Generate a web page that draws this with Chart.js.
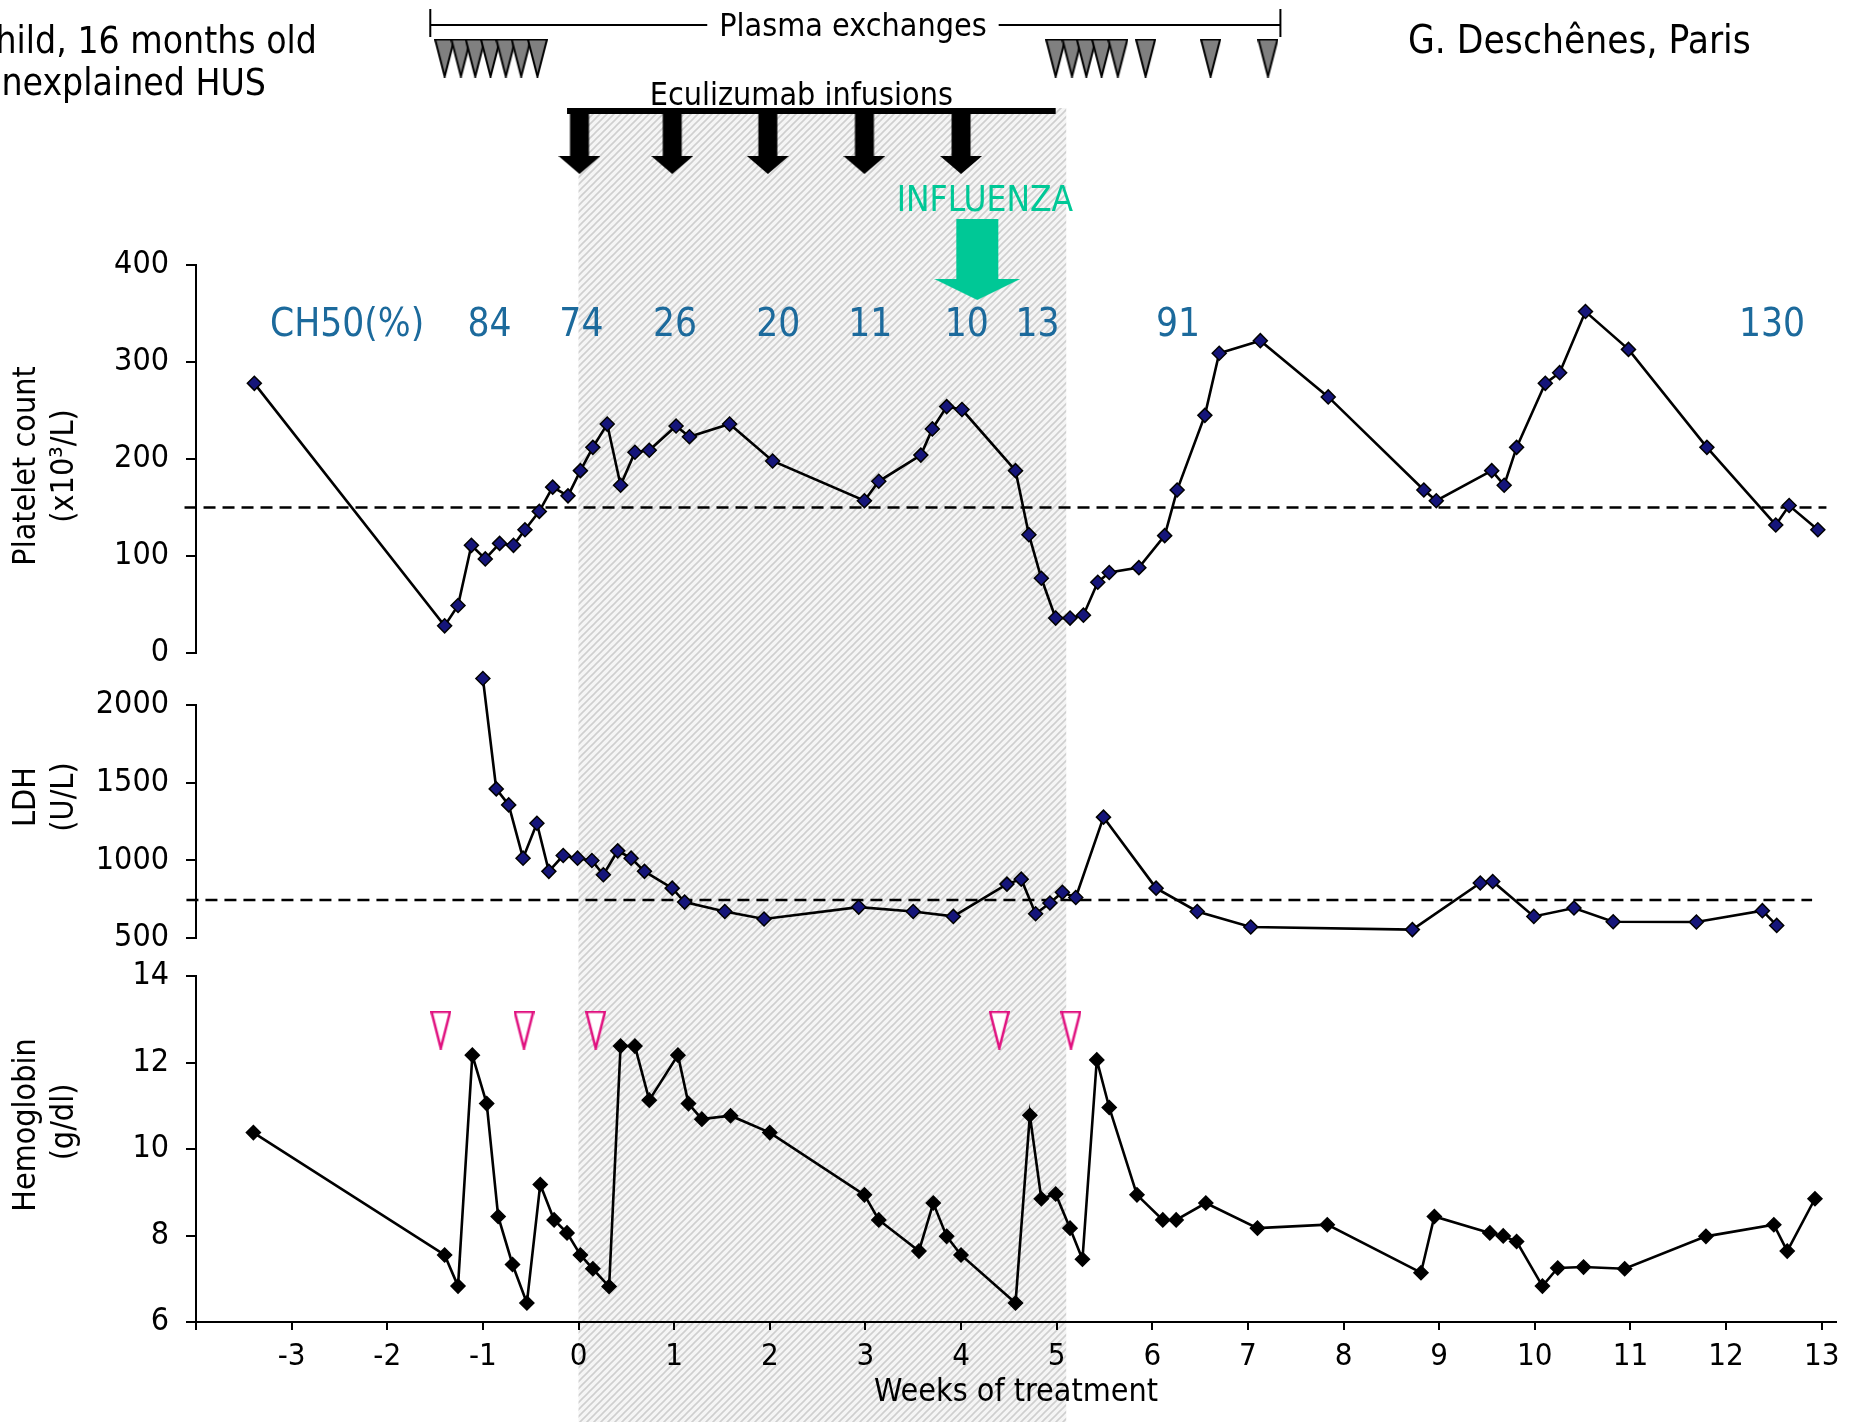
<!DOCTYPE html>
<html>
<head>
<meta charset="utf-8">
<title>Eculizumab et SHU atypique</title>
<script src="https://cdn.jsdelivr.net/npm/chart.js@4.4.1/dist/chart.umd.min.js"></script>
<style>
  html, body { margin: 0; padding: 0; background: #fff; }
  #wrap { width: 1859px; height: 1422px; overflow: hidden; }
</style>
</head>
<body>
<div id="wrap"><canvas id="husChart" width="1859" height="1422"></canvas></div>
<script>
// Semaines (axe x)
const xTicks = [-4, -3, -2, -1, 0, 1, 2, 3, 4, 5, 6, 7, 8, 9, 10, 11, 12, 13];

// Plaquettes (x10^3/L)
const pltWeeks = [-3.39, -1.40, -1.26, -1.12, -0.975, -0.825, -0.68, -0.56, -0.41, -0.27, -0.11, 0.02, 0.15, 0.30, 0.44,
  0.59, 0.74, 1.02, 1.16, 1.58, 2.03, 2.99, 3.14, 3.58, 3.70, 3.85, 4.01, 4.57, 4.71, 4.84, 4.99, 5.14, 5.28, 5.43,
  5.55, 5.86, 6.13, 6.26, 6.55, 6.70, 7.13, 7.84, 8.84, 8.97, 9.55, 9.68, 9.81, 10.11, 10.26, 10.53, 10.98, 11.80,
  12.52, 12.66, 12.96];
const pltValues = [278, 28, 49, 111, 97, 113, 111, 127, 146, 171, 162, 188, 212, 236, 173,
  207, 209, 234, 223, 236, 198, 157, 177, 204, 231, 254, 251, 188, 122, 77, 36, 36, 39, 73,
  83, 88, 121, 168, 245, 309, 322, 264, 168, 157, 188, 173, 212, 278, 289, 352, 313, 212,
  132, 152, 127];
const pltLimit = 150;

// LDH (U/L)
const ldhWeeks = [-1.00, -0.86, -0.73, -0.58, -0.435, -0.31, -0.16, -0.01, 0.14, 0.26, 0.41, 0.55, 0.69, 0.98, 1.11,
  1.53, 1.94, 2.93, 3.50, 3.92, 4.48, 4.63, 4.78, 4.93, 5.06, 5.20, 5.49, 6.04, 6.47, 7.03, 8.72, 9.43, 9.56, 9.99,
  10.41, 10.82, 11.69, 12.38, 12.53];
const ldhValues = [2171, 1460, 1357, 1014, 1239, 929, 1031, 1014, 999, 907, 1061, 1014, 929, 821, 731,
  671, 622, 699, 671, 639, 847, 879, 656, 725, 794, 761, 1278, 821, 671, 571, 554, 854, 864, 639,
  693, 605, 603, 676, 581];
const ldhLimit = 745;

// Hémoglobine (g/dl)
const hbWeeks = [-3.40, -1.40, -1.26, -1.11, -0.96, -0.84, -0.69, -0.54, -0.40, -0.255, -0.12, 0.02, 0.15, 0.32, 0.44,
  0.59, 0.74, 1.04, 1.15, 1.29, 1.59, 2.00, 2.99, 3.14, 3.56, 3.71, 3.85, 4.00, 4.57, 4.72, 4.84, 4.99, 5.14, 5.27,
  5.42, 5.55, 5.84, 6.11, 6.25, 6.56, 7.10, 7.83, 8.81, 8.95, 9.53, 9.67, 9.81, 10.08, 10.24, 10.51, 10.94, 11.79,
  12.50, 12.64, 12.93];
const hbValues = [10.38, 7.55, 6.83, 12.17, 11.05, 8.44, 7.33, 6.44, 9.18, 8.36, 8.06, 7.55, 7.23, 6.82, 12.38,
  12.38, 11.13, 12.17, 11.05, 10.69, 10.77, 10.38, 8.94, 8.36, 7.64, 8.75, 7.98, 7.55, 6.44, 10.78, 8.85, 8.96, 8.17, 7.45,
  12.06, 10.96, 8.94, 8.36, 8.36, 8.75, 8.17, 8.25, 7.14, 8.44, 8.06, 7.99, 7.86, 6.83, 7.25, 7.27, 7.23, 7.98,
  8.25, 7.64, 8.85];

// Transfusions, échanges plasmatiques, perfusions d'eculizumab, grippe
const transfusionWeeks = [-1.44, -0.57, 0.18, 4.40, 5.15];
const plasmaWeeks = [-1.40, -1.23, -1.08, -0.92, -0.76, -0.60, -0.43, 4.99, 5.16, 5.31, 5.47, 5.64, 5.93, 6.61, 7.21];
const plasmaSpan = [-1.55, 7.34];
const eculizumabWeeks = [0.01, 0.98, 1.98, 2.99, 4.00];
const eculizumabSpan = [-0.12, 4.99];
const treatmentSpan = [0, 5.1];
const influenzaWeek = 4.17;

// CH50 (%)
const ch50Weeks = [-0.93, 0.03, 1.01, 2.09, 3.05, 4.06, 4.80, 6.27, 12.48];
const ch50Values = [84, 74, 26, 20, 11, 10, 13, 91, 130];

const FONT = '"DejaVu Sans Condensed", "DejaVu Sans", sans-serif';
const NAVY = '#15157a';
const BLUE = '#1c6a9c';
const TEAL = '#00c896';
const MAGENTA = '#e0107f';

// Rangées (px depuis le haut) du bandeau supérieur
const ROW_PLASMA = 58, ROW_ECU_BAR = 111, ROW_ECU = 142, ROW_FLU = 259.5, HATCH_TOP = 108;

function triangleCanvas(w, h, fill, stroke, lw) {
  const c = document.createElement('canvas');
  c.width = w; c.height = h;
  const g = c.getContext('2d');
  g.beginPath();
  g.moveTo(lw / 2, lw / 2);
  g.lineTo(w - lw / 2, lw / 2);
  g.lineTo(w / 2, h - lw / 2);
  g.closePath();
  g.fillStyle = fill;
  g.fill();
  g.lineWidth = lw;
  g.strokeStyle = stroke;
  g.stroke();
  return c;
}

function arrowCanvas(w, h, shaftW, headH, color) {
  const c = document.createElement('canvas');
  c.width = w; c.height = h;
  const g = c.getContext('2d');
  g.fillStyle = color;
  g.beginPath();
  g.moveTo((w - shaftW) / 2, 0);
  g.lineTo((w + shaftW) / 2, 0);
  g.lineTo((w + shaftW) / 2, h - headH);
  g.lineTo(w, h - headH);
  g.lineTo(w / 2, h);
  g.lineTo(0, h - headH);
  g.lineTo((w - shaftW) / 2, h - headH);
  g.closePath();
  g.fill();
  return c;
}

function hatchPattern(ctx) {
  const c = document.createElement('canvas');
  c.width = 7; c.height = 7;
  const g = c.getContext('2d');
  g.fillStyle = '#f5f5f5';
  g.fillRect(0, 0, 7, 7);
  g.strokeStyle = '#cfcfcf';
  g.lineWidth = 1.6;
  g.beginPath();
  g.moveTo(0, 7); g.lineTo(7, 0);
  g.moveTo(-1, 1); g.lineTo(1, -1);
  g.moveTo(6, 8); g.lineTo(8, 6);
  g.stroke();
  return ctx.createPattern(c, 'repeat');
}

const pts = (xs, ys) => xs.map((x, i) => ({x: x, y: ys[i]}));
const row = (xs, y) => xs.map(x => ({x: x, y: y}));

function drawText(ctx, str, px, py, opt) {
  const o = Object.assign({size: 32, color: '#000', align: 'center', baseline: 'alphabetic', rotate: 0}, opt || {});
  ctx.save();
  ctx.font = o.size + 'px ' + FONT;
  ctx.fillStyle = o.color;
  ctx.textAlign = o.align;
  ctx.textBaseline = o.baseline;
  ctx.translate(px, py);
  if (o.rotate) ctx.rotate(o.rotate);
  ctx.fillText(str, 0, 0);
  ctx.restore();
}

const annotations = {
  id: 'annotations',
  beforeDraw(chart) {
    const {ctx, scales: {x, yTop}} = chart;
    ctx.save();
    ctx.fillStyle = '#fff';
    ctx.fillRect(0, 0, chart.width, chart.height);
    const left = x.getPixelForValue(treatmentSpan[0]);
    const right = x.getPixelForValue(treatmentSpan[1]);
    const top = yTop.getPixelForValue(HATCH_TOP);
    ctx.fillStyle = hatchPattern(ctx);
    ctx.fillRect(left, top, right - left, chart.height - top);
    ctx.restore();
  },
  afterDatasetsDraw(chart) {
    const {ctx, scales: {x, yTop, yPlt}} = chart;

    // Textes en haut
    drawText(ctx, 'Child, 16 months old', 317, 53, {size: 37, align: 'right'});
    drawText(ctx, 'Unexplained HUS', 266, 95, {size: 37, align: 'right'});
    drawText(ctx, 'G. Deschênes, Paris', 1408, 53, {size: 38.5, align: 'left'});

    // Accolade échanges plasmatiques
    const label = 'Plasma exchanges';
    const cx = x.getPixelForValue(2.87);
    ctx.save();
    ctx.font = '32px ' + FONT;
    const half = ctx.measureText(label).width / 2 + 12;
    const x0 = x.getPixelForValue(plasmaSpan[0]);
    const x1 = x.getPixelForValue(plasmaSpan[1]);
    const yl = yTop.getPixelForValue(25);
    ctx.strokeStyle = '#000';
    ctx.lineWidth = 2;
    ctx.beginPath();
    ctx.moveTo(x0, yl); ctx.lineTo(cx - half, yl);
    ctx.moveTo(cx + half, yl); ctx.lineTo(x1, yl);
    ctx.moveTo(x0, yTop.getPixelForValue(9)); ctx.lineTo(x0, yTop.getPixelForValue(37));
    ctx.moveTo(x1, yTop.getPixelForValue(9)); ctx.lineTo(x1, yTop.getPixelForValue(37));
    ctx.stroke();
    ctx.restore();
    drawText(ctx, label, cx, 36, {size: 32});

    drawText(ctx, 'Eculizumab infusions', x.getPixelForValue(2.33), 105, {size: 32});
    drawText(ctx, 'INFLUENZA', x.getPixelForValue(4.25), 211, {size: 35, color: TEAL});

    // CH50
    const ych = yPlt.getPixelForValue(337);
    drawText(ctx, 'CH50(%)', x.getPixelForValue(-2.42), ych, {size: 38.5, color: BLUE, baseline: 'middle'});
    ch50Weeks.forEach((w, i) => {
      drawText(ctx, String(ch50Values[i]), x.getPixelForValue(w), ych, {size: 38.5, color: BLUE, baseline: 'middle'});
    });

    // Titres des axes y
    const t = {size: 32, baseline: 'middle', rotate: -Math.PI / 2};
    drawText(ctx, 'Platelet count', 27, 466, t);
    drawText(ctx, '(x10³/L)', 65, 466, t);
    drawText(ctx, 'LDH', 27, 797, t);
    drawText(ctx, '(U/L)', 65, 797, t);
    drawText(ctx, 'Hemoglobin', 27, 1125, t);
    drawText(ctx, '(g/dl)', 65, 1122, t);
  }
};

// Pas de marge automatique autour des axes : la zone de tracé reste fixe
const noPad = s => { s.paddingTop = 0; s.paddingBottom = 0; s.paddingLeft = 0; s.paddingRight = 0; };

const yCommon = {
  position: 'left',
  stack: 'panels',
  border: {display: true, color: '#000', width: 2},
  grid: {drawOnChartArea: false, drawTicks: true, tickLength: 10, color: '#000', lineWidth: 2},
  ticks: {color: '#000', font: {family: FONT, size: 32}, padding: 17},
  afterFit: s => { s.width = 196; noPad(s); }
};

const spacer = (h, w) => ({position: 'left', stack: 'panels', stackWeight: h, weight: w, display: false, min: 0, max: 1});

const lineStyle = {
  type: 'line',
  borderColor: '#000',
  borderWidth: 2.6,
  tension: 0,
  pointStyle: 'rectRot',
  pointRadius: 7,
  pointBorderColor: '#000',
  pointBorderWidth: 1.5
};

const ctx = document.getElementById('husChart').getContext('2d');
new Chart(ctx, {
  type: 'line',
  data: {
    datasets: [
      Object.assign({}, lineStyle, {label: 'Platelets', yAxisID: 'yPlt', data: pts(pltWeeks, pltValues), pointBackgroundColor: NAVY, order: 1}),
      {label: 'Platelet limit', yAxisID: 'yPlt', data: row([-4.12, 13.05], pltLimit), borderColor: '#000', borderWidth: 2.5,
        borderDash: [12, 7], pointRadius: 0, clip: false, order: 5},
      Object.assign({}, lineStyle, {label: 'LDH', yAxisID: 'yLdh', data: pts(ldhWeeks, ldhValues), pointBackgroundColor: NAVY,
        clip: false, order: 1}),
      {label: 'LDH limit', yAxisID: 'yLdh', data: row([-4.1, 12.9], ldhLimit), borderColor: '#000', borderWidth: 2.5,
        borderDash: [12, 7], pointRadius: 0, clip: false, order: 5},
      Object.assign({}, lineStyle, {label: 'Hemoglobin', yAxisID: 'yHb', data: pts(hbWeeks, hbValues), pointBackgroundColor: '#000', order: 1}),
      {label: 'Transfusions', yAxisID: 'yHb', data: row(transfusionWeeks, 12.75), showLine: false,
        pointStyle: triangleCanvas(21, 39, '#fff', MAGENTA, 2.5), pointRadius: 10, clip: false, order: 0},
      {label: 'Plasma exchanges', yAxisID: 'yTop', data: row(plasmaWeeks, ROW_PLASMA), showLine: false,
        pointStyle: triangleCanvas(21, 39, '#808080', '#000', 2), pointRadius: 10, clip: false, order: 0},
      {label: 'Eculizumab bar', yAxisID: 'yTop', data: row(eculizumabSpan, ROW_ECU_BAR), borderColor: '#000', borderWidth: 6,
        borderCapStyle: 'butt', pointRadius: 0, clip: false, order: 2},
      {label: 'Eculizumab infusions', yAxisID: 'yTop', data: row(eculizumabWeeks, ROW_ECU), showLine: false,
        pointStyle: arrowCanvas(42, 64, 19, 18, '#000'), pointRadius: 20, clip: false, order: 1},
      {label: 'Influenza', yAxisID: 'yTop', data: row([influenzaWeek], ROW_FLU), showLine: false,
        pointStyle: arrowCanvas(86, 81, 42, 21, TEAL), pointRadius: 40, clip: false, order: 0}
    ]
  },
  options: {
    responsive: false,
    animation: false,
    events: [],
    layout: {autoPadding: false, padding: {left: 0, right: 23, top: 0, bottom: 0}},
    plugins: {legend: {display: false}, tooltip: {enabled: false}},
    scales: {
      x: {
        type: 'linear',
        position: 'bottom',
        min: -4,
        max: 13.15,
        border: {display: true, color: '#000', width: 2},
        grid: {drawOnChartArea: false, drawTicks: true, tickLength: 8, color: '#000', lineWidth: 2},
        afterBuildTicks: s => { s.ticks = xTicks.map(v => ({value: v})); },
        ticks: {color: '#000', font: {family: FONT, size: 31}, padding: 8, autoSkip: false, maxRotation: 0,
          callback: v => (v === -4 ? '' : String(v))},
        title: {display: true, text: 'Weeks of treatment', color: '#000', font: {family: FONT, size: 32},
          padding: {top: 0, bottom: 10}},
        afterFit: s => { s.height = 100; noPad(s); }
      },
      yTop: {position: 'left', stack: 'panels', stackWeight: 265, weight: 6, display: false, min: 0, max: 265, reverse: true},
      yPlt: Object.assign({}, yCommon, {stackWeight: 388, weight: 5, min: 0, max: 400,
        ticks: Object.assign({}, yCommon.ticks, {stepSize: 50, callback: v => (v % 100 === 0 ? String(v) : '')})}),
      yGap1: spacer(52, 4),
      yLdh: Object.assign({}, yCommon, {stackWeight: 233, weight: 3, min: 500, max: 2000,
        ticks: Object.assign({}, yCommon.ticks, {stepSize: 500, callback: v => String(v)})}),
      yGap2: spacer(38, 2),
      yHb: Object.assign({}, yCommon, {stackWeight: 346, weight: 1, min: 6, max: 14,
        ticks: Object.assign({}, yCommon.ticks, {stepSize: 1, callback: v => (v % 2 === 0 ? String(v) : '')})})
    }
  },
  plugins: [annotations]
});
</script>
</body>
</html>
